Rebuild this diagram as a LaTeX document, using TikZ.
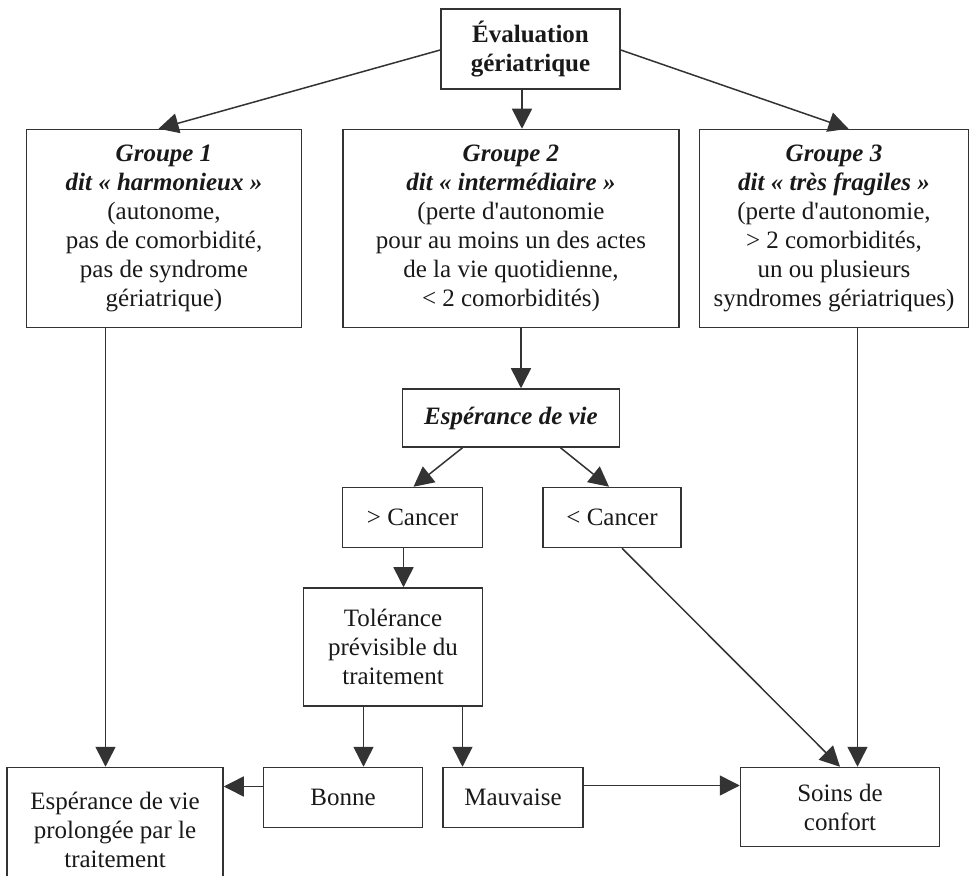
\documentclass[tikz,border=0pt]{standalone}
\usepackage{fontspec}
\setmainfont{Liberation Serif}
\usetikzlibrary{arrows.meta, positioning}

\begin{document}
\begin{tikzpicture}[x=0.5pt, y=-0.5pt]
    \tikzset{
        box/.style = {rectangle, draw=black!80, line width=0.75pt, inner sep=1pt, align=center,
                      font=\fontsize{12.5}{14.5}\selectfont, text=black!90},
        line/.style = {draw=black!80, line width=0.75pt, -{Triangle[length=10pt, width=10pt]}},
    }
    \useasboundingbox (0,0) rectangle (969,876);

    \node[box, minimum width=89.5pt, minimum height=40pt](eval) at (530.5,49)
        {\textbf{Évaluation}\\ \textbf{gériatrique}};

    \node[box, minimum width=168pt, minimum height=99pt](g2)[below = 19.5pt of eval, xshift=-9.75pt]
        {\textbf{\textit{Groupe 2}}\\ \textbf{\textit{dit « intermédiaire »}}\\ (perte d\textquotesingle autonomie\\
         pour au moins un des actes\\ de la vie quotidienne,\\ < 2 comorbidités)};
    \node[box, minimum width=137.5pt, minimum height=99pt](g1)[left = 20pt of g2]
        {\textbf{\textit{Groupe 1}}\\ \textbf{\textit{dit « harmonieux »}}\\ (autonome,\\
         pas de comorbidité,\\ pas de syndrome\\ gériatrique)};
    \node[box, minimum width=134.5pt, minimum height=99pt](g3)[right = 9.5pt of g2]
        {\textbf{\textit{Groupe 3}}\\ \textbf{\textit{dit « très fragiles »}}\\ (perte d\textquotesingle autonomie,\\
         > 2 comorbidités,\\ un ou plusieurs\\ syndromes gériatriques)};

    \node[box, minimum width=108.5pt, minimum height=29pt](esp)[below = 30pt of g2]
        {\textbf{\textit{Espérance de vie}}};

    \node[box, minimum width=70pt, minimum height=30pt](plus)[below = 19.5pt of esp, xshift=-49.25pt]{> Cancer};
    \node[box, minimum width=69pt, minimum height=30pt](minus)[right = 29.5pt of plus]{< Cancer};

    \node[box, minimum width=89.5pt, minimum height=59pt](tol)[below = 19.5pt of plus, xshift=-9.75pt]
        {Tolérance\\ prévisible du\\ traitement};

    \node[box, minimum width=79.5pt, minimum height=30pt](bonne)[below = 30pt of tol, xshift=-25pt]{Bonne};
    \node[box, minimum width=70pt, minimum height=30pt](mauv)[right = 9.5pt of bonne]{Mauvaise};

    \node[box, minimum width=108pt, minimum height=62.5pt](prol)[left = 19.5pt of bonne.north west, anchor=north east]
        {Espérance de vie\\ prolongée par le\\ traitement};
    \node[box, minimum width=99.5pt, minimum height=39.5pt](soins)[right = 78pt of mauv.north east, anchor=north west]
        {Soins de\\ confort};

    \path [line] ([yshift=-0.5pt]eval.west) -- ([xshift=-2.75pt]g1.north);
    \path [line] ([xshift=-4.25pt]eval.south) -- ([xshift=-4.25pt]eval.south |- g2.north);
    \path [line] ([yshift=-0.5pt]eval.east) -- ([xshift=7.25pt]g3.north);

    \path [line] ([xshift=-29.25pt]g1.south) -- ([xshift=-29.25pt]g1.south |- prol.north);
    \path [line] ([xshift=5pt]g2.south) -- ([xshift=5pt]g2.south |- esp.north);
    \path [line] ([xshift=11.75pt]g3.south) -- ([xshift=11.75pt]g3.south |- soins.north);

    \path [line] ([xshift=-24.25pt]esp.south) -- ([xshift=0.5pt]plus.north);
    \path [line] ([xshift=24.75pt]esp.south) -- ([xshift=-1.5pt]minus.north);

    \path [line] ([xshift=-4.5pt]plus.south) -- ([xshift=-4.5pt]plus.south |- tol.north);
    \path [line] ([xshift=5pt]minus.south) -- (soins.north);

    \path [line] ([xshift=-14.75pt]tol.south) -- ([xshift=-14.75pt]tol.south |- bonne.north);
    \path [line] ([xshift=34.75pt]tol.south) -- ([xshift=34.75pt]tol.south |- mauv.north);

    \path [line] ([yshift=5.5pt]bonne.west) -- ([yshift=5.5pt]bonne.west -| prol.east);
    \path [line] ([yshift=6pt]mauv.east) -- ([yshift=6pt]mauv.east -| soins.west);

\end{tikzpicture}
\end{document}
